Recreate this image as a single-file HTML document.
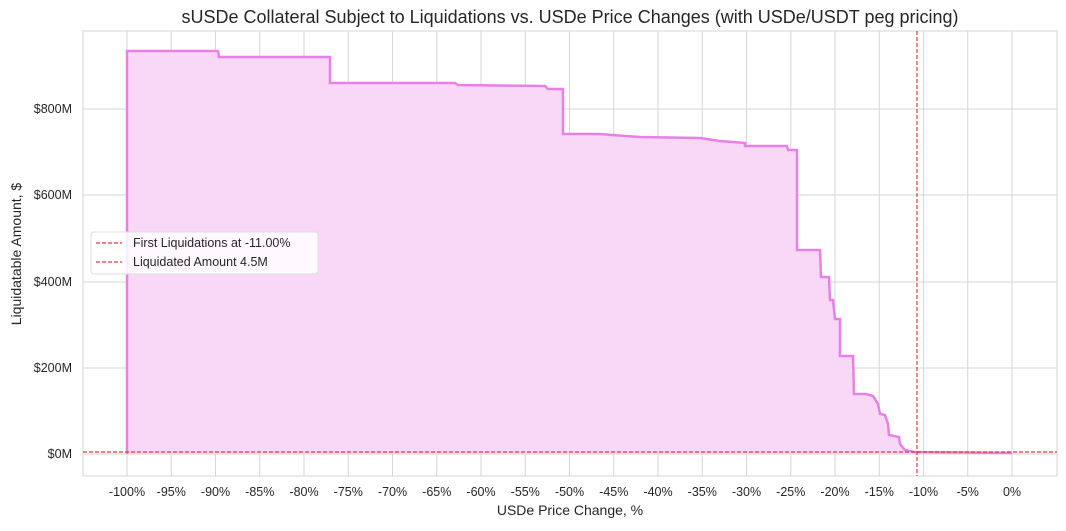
<!DOCTYPE html>
<html><head><meta charset="utf-8"><style>
body{margin:0;background:#fff;}
svg text{font-family:"Liberation Sans",sans-serif;fill:#262626;}
</style></head><body>
<svg width="1066" height="526" xmlns="http://www.w3.org/2000/svg">
<rect x="0" y="0" width="1066" height="526" fill="#fff"/>
<text x="570" y="23" font-size="18" text-anchor="middle">sUSDe Collateral Subject to Liquidations vs. USDe Price Changes (with USDe/USDT peg pricing)</text>
<g stroke="#d6d6d6" stroke-width="1">
<line x1="83" y1="454" x2="1057" y2="454"/><line x1="83" y1="368" x2="1057" y2="368"/><line x1="83" y1="282" x2="1057" y2="282"/><line x1="83" y1="195" x2="1057" y2="195"/><line x1="83" y1="109" x2="1057" y2="109"/>
<line x1="127" y1="31" x2="127" y2="476"/><line x1="171.25" y1="31" x2="171.25" y2="476"/><line x1="215.5" y1="31" x2="215.5" y2="476"/><line x1="259.75" y1="31" x2="259.75" y2="476"/><line x1="304" y1="31" x2="304" y2="476"/><line x1="348.25" y1="31" x2="348.25" y2="476"/><line x1="392.5" y1="31" x2="392.5" y2="476"/><line x1="436.75" y1="31" x2="436.75" y2="476"/><line x1="481" y1="31" x2="481" y2="476"/><line x1="525.25" y1="31" x2="525.25" y2="476"/><line x1="569.5" y1="31" x2="569.5" y2="476"/><line x1="613.75" y1="31" x2="613.75" y2="476"/><line x1="658" y1="31" x2="658" y2="476"/><line x1="702.25" y1="31" x2="702.25" y2="476"/><line x1="746.5" y1="31" x2="746.5" y2="476"/><line x1="790.75" y1="31" x2="790.75" y2="476"/><line x1="835" y1="31" x2="835" y2="476"/><line x1="879.25" y1="31" x2="879.25" y2="476"/><line x1="923.5" y1="31" x2="923.5" y2="476"/><line x1="967.75" y1="31" x2="967.75" y2="476"/><line x1="1012" y1="31" x2="1012" y2="476"/>
</g>
<rect x="83" y="31" width="974" height="445" fill="none" stroke="#d6d6d6"/>
<path d="M127,454 L127,51 L218,51 L219,57 L330,57 L330,83 L455,83 L458,85 L545,86 L548,89 L563,89 L563,134 L600,134 L612,135 L640,137 L700,138 L720,141 L745,143 L745,146 L787,146 L788,150 L797,150 L797,250 L820,250 L821,277 L829,277 L830,300 L833,300 L835,319 L840,319 L840,356 L853,356 L854,394 L866,394 L873,396 L878,404 L880,414 L885,415 L888,424 L889,435 L899,437 L900,444 L905,450 L914,452 L1012,453 L1012,454 Z" fill="#f9d7f6" stroke="none"/>
<path d="M127,454 L127,51 L218,51 L219,57 L330,57 L330,83 L455,83 L458,85 L545,86 L548,89 L563,89 L563,134 L600,134 L612,135 L640,137 L700,138 L720,141 L745,143 L745,146 L787,146 L788,150 L797,150 L797,250 L820,250 L821,277 L829,277 L830,300 L833,300 L835,319 L840,319 L840,356 L853,356 L854,394 L866,394 L873,396 L878,404 L880,414 L885,415 L888,424 L889,435 L899,437 L900,444 L905,450 L914,452 L1012,453" fill="none" stroke="#e681e6" stroke-width="2.5"/>
<line x1="917" y1="31" x2="917" y2="476" stroke="#e03a3a" stroke-width="1.2" stroke-dasharray="4,2"/>
<line x1="83" y1="452" x2="1057" y2="452" stroke="#e03a3a" stroke-width="1.2" stroke-dasharray="4,2"/>
<g font-size="12.5" text-anchor="end">
<text x="72" y="458">$0M</text><text x="72" y="372">$200M</text><text x="72" y="286">$400M</text><text x="72" y="199">$600M</text><text x="72" y="113">$800M</text>
</g>
<g font-size="12.5" text-anchor="middle">
<text x="127" y="496">-100%</text><text x="171.25" y="496">-95%</text><text x="215.5" y="496">-90%</text><text x="259.75" y="496">-85%</text><text x="304" y="496">-80%</text><text x="348.25" y="496">-75%</text><text x="392.5" y="496">-70%</text><text x="436.75" y="496">-65%</text><text x="481" y="496">-60%</text><text x="525.25" y="496">-55%</text><text x="569.5" y="496">-50%</text><text x="613.75" y="496">-45%</text><text x="658" y="496">-40%</text><text x="702.25" y="496">-35%</text><text x="746.5" y="496">-30%</text><text x="790.75" y="496">-25%</text><text x="835" y="496">-20%</text><text x="879.25" y="496">-15%</text><text x="923.5" y="496">-10%</text><text x="967.75" y="496">-5%</text><text x="1012" y="496">0%</text>
</g>
<text x="570" y="515" font-size="14" text-anchor="middle">USDe Price Change, %</text>
<text x="0" y="0" font-size="14" text-anchor="middle" transform="translate(21,254) rotate(-90)">Liquidatable Amount, $</text>
<rect x="91" y="232" width="227" height="42" rx="3" fill="#fff" fill-opacity="0.85" stroke="#ddd"/>
<line x1="96" y1="243" x2="122" y2="243" stroke="#e03a3a" stroke-width="1.2" stroke-dasharray="4,2"/>
<line x1="96" y1="262" x2="122" y2="262" stroke="#e03a3a" stroke-width="1.2" stroke-dasharray="4,2"/>
<text x="133" y="247" font-size="12.5">First Liquidations at -11.00%</text>
<text x="133" y="266" font-size="12.5">Liquidated Amount 4.5M</text>
</svg>
</body></html>
